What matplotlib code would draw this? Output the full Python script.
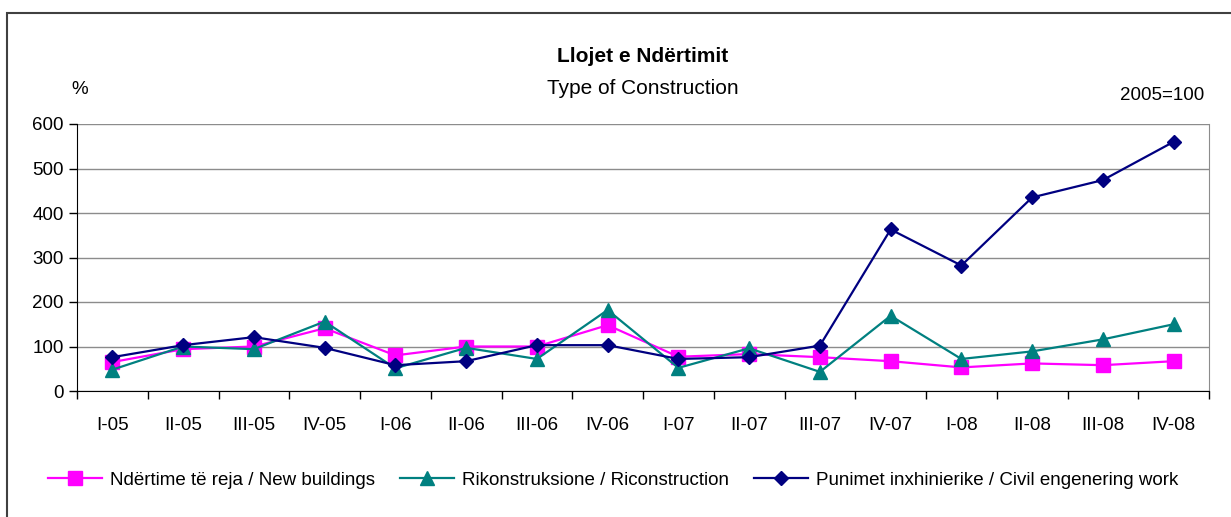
import matplotlib.pyplot as plt
from matplotlib.patches import Rectangle

QUARTERS = ["I-05", "II-05", "III-05", "IV-05", "I-06", "II-06", "III-06", "IV-06",
            "I-07", "II-07", "III-07", "IV-07", "I-08", "II-08", "III-08", "IV-08"]

NEW_BUILDINGS = [65, 94, 100, 141, 80, 100, 100, 148, 77, 83, 76, 67, 53, 62, 58, 67]
RECONSTRUCTION = [48, 100, 94, 156, 51, 97, 72, 182, 52, 96, 43, 169, 72, 89, 116, 150]
CIVIL_ENGINEERING = [76, 103, 121, 97, 58, 67, 103, 103, 72, 76, 102, 363, 282, 435, 474, 560]

SERIES_LABELS = [
    "Ndërtime të reja / New buildings",
    "Rikonstruksione / Riconstruction",
    "Punimet inxhinierike / Civil engenering work",
]

plt.rcParams["font.family"] = ["Liberation Sans", "DejaVu Sans"]
plt.rcParams["font.size"] = 13.5

W, H = 1231, 517
fig = plt.figure(figsize=(W / 100, H / 100), dpi=100)
ax = fig.add_axes([77 / W, 1 - 391 / H, (1209 - 77) / W, (391 - 124) / H])

x = list(range(len(QUARTERS)))
ax.plot(x, NEW_BUILDINGS, color="#FF00FF", lw=1.6, marker="s", ms=9.5,
        label=SERIES_LABELS[0], zorder=3)
ax.plot(x, RECONSTRUCTION, color="#008080", lw=1.6, marker="^", ms=10.5,
        label=SERIES_LABELS[1], zorder=3)
ax.plot(x, CIVIL_ENGINEERING, color="#000080", lw=1.6, marker="D", ms=7.5,
        label=SERIES_LABELS[2], zorder=3)

ax.set_xlim(-0.5, len(QUARTERS) - 0.5)
ax.set_ylim(0, 600)
ax.set_yticks(range(0, 601, 100))
ax.yaxis.grid(True, color="#8c8c8c", lw=1)
ax.set_axisbelow(True)

ax.set_xticks(x)
ax.set_xticklabels(QUARTERS)
ax.set_xticks([i - 0.5 for i in range(len(QUARTERS) + 1)], minor=True)
ax.tick_params(axis="x", which="major", length=0, pad=18.5)
ax.tick_params(axis="x", which="minor", length=5.5, width=1, color="black", direction="out")
ax.tick_params(axis="y", length=5.5, width=1, pad=4, direction="out")

ax.spines["top"].set_visible(False)
ax.spines["right"].set_color("#8c8c8c")
ax.spines["left"].set_color("black")
ax.spines["bottom"].set_color("black")

fig.text(643 / W, 1 - 56 / H, "Llojet e Ndërtimit", ha="center", va="center",
         fontsize=15, fontweight="bold")
fig.text(643 / W, 1 - 88 / H, "Type of Construction", ha="center", va="center", fontsize=15)
fig.text(80 / W, 1 - 90 / H, "%", ha="center", va="center")
fig.text(1204 / W, 1 - 96 / H, "2005=100", ha="right", va="center")

fig.legend(loc="center", bbox_to_anchor=(613 / W, 1 - 480 / H), ncol=3, frameon=False,
           handlelength=2.9, handletextpad=0.4, columnspacing=1.35)

# outer chart border (only the left and top edges fall inside the picture)
fig.patches.append(Rectangle((7 / W, -0.1), 1.2, 1.1 - 13 / H, transform=fig.transFigure,
                             fill=False, edgecolor="#404040", lw=1.5))

fig.savefig("out.png", dpi=100)
